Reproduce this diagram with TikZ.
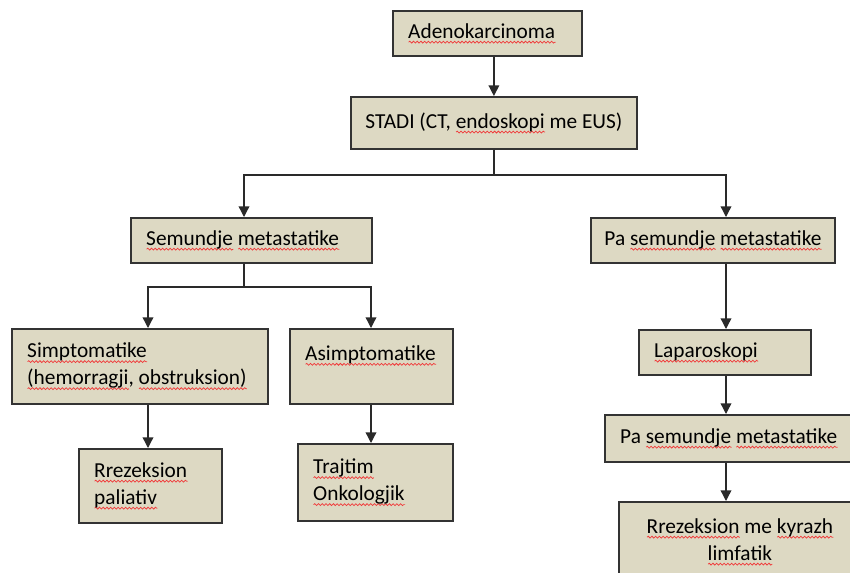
\documentclass[tikz,border=0pt]{standalone}
\usepackage{fontspec}
\setmainfont{Carlito}
\usepackage{xcolor}
\usetikzlibrary{arrows.meta,positioning,calc,decorations.pathmorphing}
\definecolor{boxtan}{HTML}{DDD9C3}
\definecolor{boxline}{HTML}{333333}
\definecolor{linegray}{HTML}{2A2A2A}
\definecolor{wavered}{HTML}{F03A3A}
% red spell-check wave under a word
\newsavebox{\spellbox}
\newlength{\spellwd}
\newcommand{\spell}[1]{\leavevmode\sbox{\spellbox}{#1}\setlength{\spellwd}{\wd\spellbox}%
  \rlap{\tikz[baseline=0pt]\draw[wavered,line width=0.55pt,decorate,
    decoration={snake,amplitude=0.7pt,segment length=2.8pt}]
    (0pt,-3pt) -- (\spellwd,-3pt);}\usebox{\spellbox}}
\tikzset{
  card/.style={draw=boxline,fill=boxtan,line width=1.35pt,anchor=north west,
               align=flush left,inner xsep=11.5pt,inner ysep=0pt,
               font=\fontsize{16}{20.25}\selectfont},
  flowarr/.style={-{Triangle[length=8pt,width=8pt]},line width=1pt,
                  draw=linegray},
}

\begin{document}
\begin{tikzpicture}[x=0.75pt,y=-0.75pt]
    \useasboundingbox (0,0) rectangle (850,572);
    \clip (0,0) rectangle (850,572);
    \node[card,text width=118.75pt,minimum height=33.75pt] (adeno) at (392,10)
      {\spell{Adenokarcinoma}};
    \node[card,inner xsep=9pt,minimum width=214.5pt,minimum height=39pt] (stadi) at (350,96)
      {STADI (CT, \spell{endoskopi} me EUS)};
    \node[card,text width=157.75pt,minimum height=33.75pt] (meta) at (130,217)
      {\spell{Semundje} \spell{metastatike}};
    \node[card,inner xsep=9pt,minimum width=183pt,minimum height=33.75pt] (nometa) at (590,217)
      {Pa \spell{semundje} \spell{metastatike}};
    \node[card,text width=169pt,minimum height=56.25pt] (simpt) at (11,328)
      {\spell{Simptomatike}\\\spell{(hemorragji}, \spell{obstruksion)}};
    \node[card,text width=99.25pt,minimum height=56.25pt] (asimpt) at (289,328)
      {\spell{Asimptomatike}\\\mbox{}};
    \node[card,text width=84.25pt,minimum height=55.5pt] (paliat) at (78,448)
      {\spell{Rrezeksion}\\\spell{paliativ}};
    \node[card,text width=93.25pt,minimum height=57.75pt] (onko) at (297,443)
      {\spell{Trajtim}\\\spell{Onkologjik}};
    \node[card,text width=106pt,minimum height=33.75pt] (lapar) at (638,329)
      {\spell{Laparoskopi}};
    \node[card,text width=179.5pt,minimum height=35.25pt] (nometa2) at (604,414)
      {Pa \spell{semundje} \spell{metastatike}};
    \node[card,align=flush center,text width=158.5pt,minimum height=60pt] (rrez) at (618,501)
      {\spell{Rrezeksion} me \spell{kyrazh}\\\spell{limfatik}};
    % branch points
    \coordinate (jl) at (244,175);
    \coordinate (jr) at (726,175);
    \coordinate (ml) at (148,287);
    \coordinate (mr) at (371,287);
    \draw[flowarr] (adeno.south -| stadi.north) -- (stadi.north);
    \draw[flowarr] (stadi.south) |- (jl) -- (jl |- meta.north);
    \draw[flowarr] (stadi.south) |- (jr) -- (jr |- nometa.north);
    \draw[flowarr] (jl |- meta.south) |- (ml) -- (ml |- simpt.north);
    \draw[flowarr] (jl |- meta.south) |- (mr) -- (mr |- asimpt.north);
    \draw[flowarr] (ml |- simpt.south) -- (ml |- paliat.north);
    \draw[flowarr] (mr |- asimpt.south) -- (mr |- onko.north);
    \draw[flowarr] (jr |- nometa.south) -- (jr |- lapar.north);
    \draw[flowarr] (jr |- lapar.south) -- (jr |- nometa2.north);
    \draw[flowarr] (jr |- nometa2.south) -- (jr |- rrez.north);
  \end{tikzpicture}
\end{document}
